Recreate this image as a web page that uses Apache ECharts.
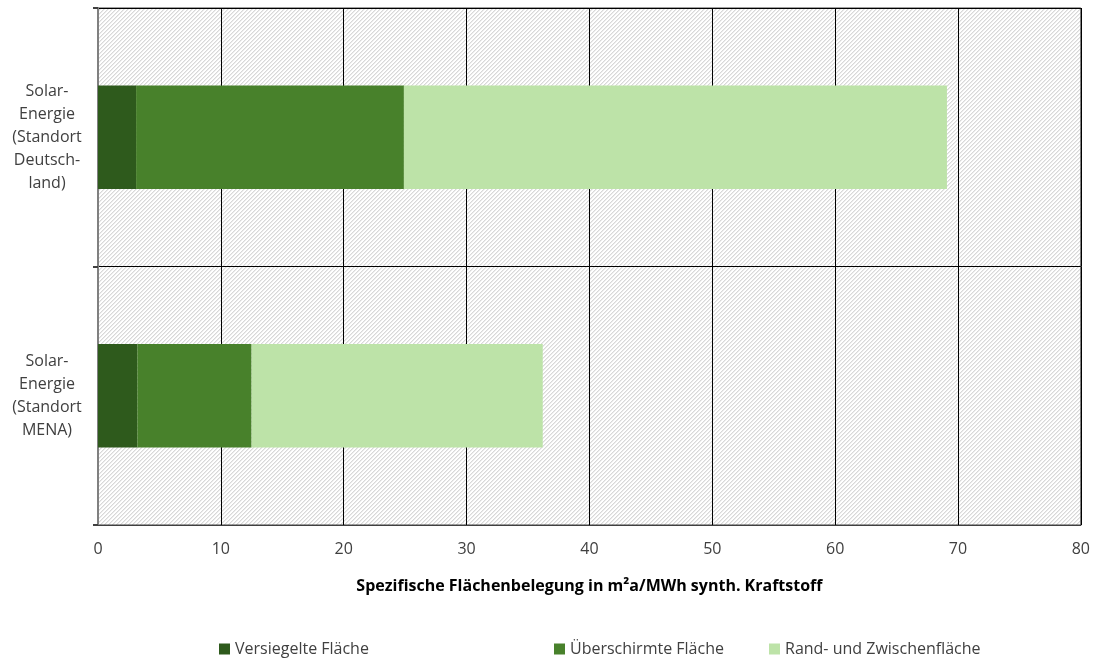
<!DOCTYPE html>
<html><head><meta charset="utf-8">
<script src="https://cdn.jsdelivr.net/npm/echarts@6/dist/echarts.min.js"></script>
<style>html,body{margin:0;padding:0;background:#fff}#c{width:1093px;height:658px}</style>
</head><body><div id="c"></div>
<script>
const categories = ['Solar-\nEnergie\n(Standort\nDeutsch-\nland)', 'Solar-\nEnergie\n(Standort\nMENA)'];
const seriesNames = ['Versiegelte Fläche', 'Überschirmte Fläche', 'Rand- und Zwischenfläche'];
const versiegelt = [3.1, 3.2];
const ueberschirmt = [21.8, 9.3];
const rand = [44.2, 23.7];
const colors = ['#2e5a1c', '#48812b', '#bde3a8'];
const xTicks = [0, 80, 10];

const tile = document.createElement('canvas');
tile.width = 8; tile.height = 8;
const tctx = tile.getContext('2d');
const img = tctx.createImageData(8, 8);
for (let y = 0; y < 8; y++) for (let x = 0; x < 8; x++) {
  const m = (x + y) % 4;
  let v = 255;
  if (m === 0) v = 216; else if (m === 1) v = 236;
  const i = (y * 8 + x) * 4;
  img.data[i] = v; img.data[i+1] = v; img.data[i+2] = v; img.data[i+3] = 255;
}
tctx.putImageData(img, 0, 0);

const font = '"Open Sans", "Liberation Sans", sans-serif';
const chart = echarts.init(document.getElementById('c'));
const dataSets = [versiegelt, ueberschirmt, rand];
const legendLefts = [214, 549, 764];
chart.setOption({
  animation: false,
  textStyle: { fontFamily: font },
  grid: { left: 98, right: 12, top: 8, bottom: 133, show: true,
    backgroundColor: { image: tile, repeat: 'repeat' },
    borderColor: '#404040', borderWidth: 1 },
  legend: seriesNames.map((n, i) => ({
    data: [n], left: legendLefts[i], top: 636, itemWidth: 11, itemHeight: 11, itemGap: 4,
    textStyle: { fontSize: 16, color: '#404040', fontFamily: font }, icon: 'rect'
  })),
  xAxis: {
    type: 'value', min: xTicks[0], max: xTicks[1], interval: xTicks[2],
    axisLine: { show: true, lineStyle: { color: '#404040' } },
    axisTick: { show: false },
    axisLabel: { fontSize: 16, color: '#404040', margin: 16 },
    splitLine: { show: true, lineStyle: { color: '#000', width: 1 } },
    name: 'Spezifische Flächenbelegung in m²a/MWh synth. Kraftstoff',
    nameLocation: 'middle', nameGap: 53,
    nameTextStyle: { fontSize: 16, fontWeight: 'bold', color: '#000' }
  },
  yAxis: {
    type: 'category', data: categories, inverse: true,
    axisLine: { show: true, lineStyle: { color: '#808080', width: 2 } },
    axisTick: { show: true, length: 5, lineStyle: { color: '#404040', width: 2 } },
    axisLabel: { fontSize: 16, color: '#404040', align: 'center', margin: 51, lineHeight: 23 },
    splitLine: { show: true, lineStyle: { color: '#000', width: 1 } }
  },
  series: seriesNames.map((n, i) => ({
    name: n, type: 'bar', stack: 'a', data: dataSets[i], barWidth: '40%',
    itemStyle: { color: colors[i] }
  }))
});
</script></body></html>
